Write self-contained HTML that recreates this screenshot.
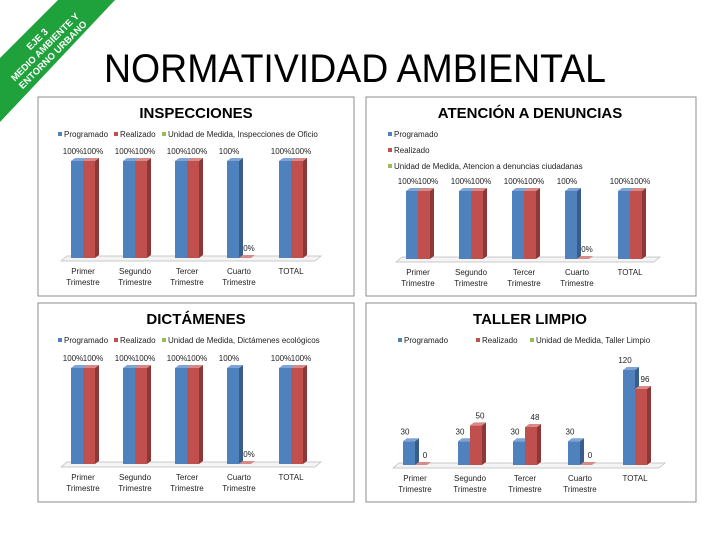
<!DOCTYPE html>
<html><head><meta charset="utf-8"><style>
body{margin:0;width:720px;height:540px;background:#fff;overflow:hidden;font-family:"Liberation Sans",sans-serif}
</style></head><body>
<svg id="s" width="720" height="540" xmlns="http://www.w3.org/2000/svg" font-family="Liberation Sans, sans-serif">
<g>
<polygon points="0,58 58,0 115,0 0,122" fill="#1fa13c"/>
<g transform="translate(48,50) rotate(-45)" fill="#fff" font-size="9.5" font-weight="bold" text-anchor="middle">
<text x="0" y="-12">EJE 3</text><text x="0" y="-1">MEDIO AMBIENTE Y</text><text x="0" y="10">ENTORNO URBANO</text></g>
</g>
<text x="104" y="82" font-size="40" textLength="502" lengthAdjust="spacingAndGlyphs" fill="#000">NORMATIVIDAD AMBIENTAL</text>
<g id="charts"></g>
</svg>
<script>
const categories=["Primer|Trimestre","Segundo|Trimestre","Tercer|Trimestre","Cuarto|Trimestre","TOTAL"];
const insProg=[100,100,100,100,100];
const insReal=[100,100,100,0,100];
const denProg=[100,100,100,100,100];
const denReal=[100,100,100,0,100];
const dicProg=[100,100,100,100,100];
const dicReal=[100,100,100,0,100];
const talProg=[30,30,30,30,120];
const talReal=[0,50,48,0,96];
const NS="http://www.w3.org/2000/svg";
const root=document.getElementById('charts');
function mk(t,a,p){const e=document.createElementNS(NS,t);for(const k in a)e.setAttribute(k,a[k]);(p||root).appendChild(e);return e;}
function chart(o){
 const g=mk('g',{});
 
 
 mk('rect',{x:o.x,y:o.y,width:o.w,height:o.h,fill:'#fff',stroke:'#8c8c8c','stroke-width':1},g);
 const t=mk('text',{x:o.tx,y:o.y+21,'font-size':15,'font-weight':'bold','text-anchor':'middle',fill:'#000'},g);t.textContent=o.title;
 
 o.legend.forEach((L,i)=>{
  const lx=o.vert?o.x+22:o.x+L[2], ly=o.vert?o.y+40+i*16:o.y+40;
  mk('rect',{x:lx,y:ly-5,width:4,height:4,fill:L[1]},g);
  const tt=mk('text',{x:lx+6,y:ly,'font-size':8,fill:'#222'},g);tt.textContent=L[0];
  
 });
 mk('polygon',{points:`${o.c0-22},${o.base+3} ${o.c0-16},${o.base-2} ${o.c0+4*o.sp+30},${o.base-2} ${o.c0+4*o.sp+24},${o.base+3}`,fill:'#f4f4f4',stroke:'#bbb','stroke-width':0.7},g);
 const yS=v=>o.base-v/o.max*(o.base-o.top);
 categories.forEach((c,i)=>{
  const cx=o.c0+i*o.sp;
  [[o.p,'#4f81bd','#385d8a','#7ea3d4',-12],[o.r,'#c0504d','#8c3836','#d88a88',0]].forEach((s,j)=>{
   const v=s[0][i],x=cx+s[4],y=yS(v),w=12;
   const b=mk('g',{},g);
   
   
   mk('rect',{x:x,y:y,width:w,height:o.base-y+0.01,fill:s[1]},b);
   mk('polygon',{points:`${x+w},${y} ${x+w+4},${y-3} ${x+w+4},${o.base-3} ${x+w},${o.base}`,fill:s[2]},b);
   mk('polygon',{points:`${x},${y} ${x+4},${y-3} ${x+w+4},${y-3} ${x+w},${y}`,fill:s[3]},b);
   const lb=mk('text',{x:x+(j?10:2),y:y-7,'font-size':8,'text-anchor':'middle',fill:'#222'},g);
   lb.textContent=o.fmt(v);
   
  });
  c.split('|').forEach((ln,k)=>{const ct=mk('text',{x:cx,y:o.base+16+k*11,'font-size':8,'text-anchor':'middle',fill:'#222'},g);ct.textContent=ln;
   });
 });
}
const pct=v=>v+'%';
chart({name:'inspecciones-chart',x:38,y:97,w:316,h:199,tx:196,title:'INSPECCIONES',legend:[['Programado','#4f81bd',20],['Realizado','#c0504d',76],['Unidad de Medida, Inspecciones  de Oficio','#9bbb59',124]],c0:83,sp:52,base:258,top:161,max:100,p:insProg,r:insReal,fmt:pct});
chart({name:'denuncias-chart',x:366,y:97,w:330,h:199,tx:530,title:'ATENCIÓN A DENUNCIAS',vert:true,legend:[['Programado','#4f81bd'],['Realizado','#c0504d'],['Unidad de Medida, Atencion a denuncias ciudadanas','#9bbb59']],c0:418,sp:53,base:259,top:191,max:100,p:denProg,r:denReal,fmt:pct});
chart({name:'dictamenes-chart',x:38,y:303,w:316,h:199,tx:196,title:'DICTÁMENES',legend:[['Programado','#4f81bd',20],['Realizado','#c0504d',76],['Unidad de Medida, Dictámenes ecológicos','#9bbb59',124]],c0:83,sp:52,base:464,top:368,max:100,p:dicProg,r:dicReal,fmt:pct});
chart({name:'taller-limpio-chart',x:366,y:303,w:330,h:199,tx:530,title:'TALLER LIMPIO',legend:[['Programado','#4f81bd',32],['Realizado','#c0504d',110],['Unidad de Medida, Taller Limpio','#9bbb59',164]],c0:415,sp:55,base:465,top:370,max:120,p:talProg,r:talReal,fmt:v=>''+v});
</script>
</body></html>
